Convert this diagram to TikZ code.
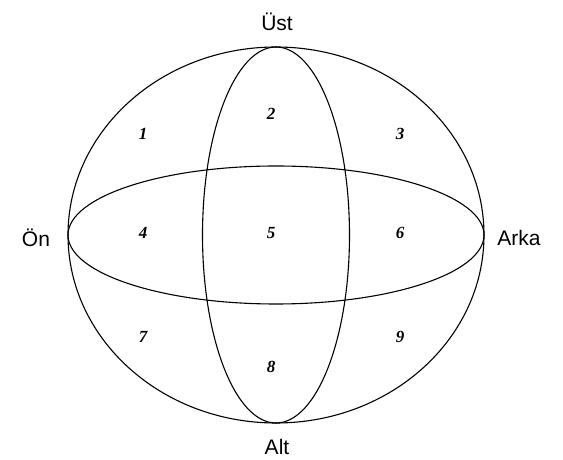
\documentclass[tikz,border=0pt]{standalone}
\usepackage{fontspec}
\setmainfont{Liberation Serif}
\setsansfont{Liberation Sans}
\usepackage{tikz}
\tikzset{yon/.style={font=\sffamily\fontsize{21}{24}\selectfont,inner sep=1pt},
  bolge/.style={font=\bfseries\itshape\fontsize{17}{20}\selectfont}}

\begin{document}
\begin{tikzpicture}[x=1pt,y=1pt]
\useasboundingbox (0,0) rectangle (563,460);
\coordinate (o) at (276,225);
\draw[line width=1.1pt] (o) ellipse [x radius=208,y radius=188];
\draw[line width=1.1pt] (o) ellipse [x radius=208,y radius=69];
\draw[line width=1.1pt] (o) ellipse [x radius=73.5,y radius=188];
\node[yon] (ust) at (277,438) {Üst}; \node[yon] (alt) at (277,13) {Alt};
\node[yon] (on) at (36,222) {Ön}; \node[yon] (arka) at (519,222) {Arka};
\foreach \n/\x/\y in {1/143/326,2/271/346,3/400/326,4/143/227,5/271/227,6/400/227,7/143/123,8/271/93,9/400/123}
  \node[bolge] (b\n) at (\x,\y) {\n};
\end{tikzpicture}
\end{document}
